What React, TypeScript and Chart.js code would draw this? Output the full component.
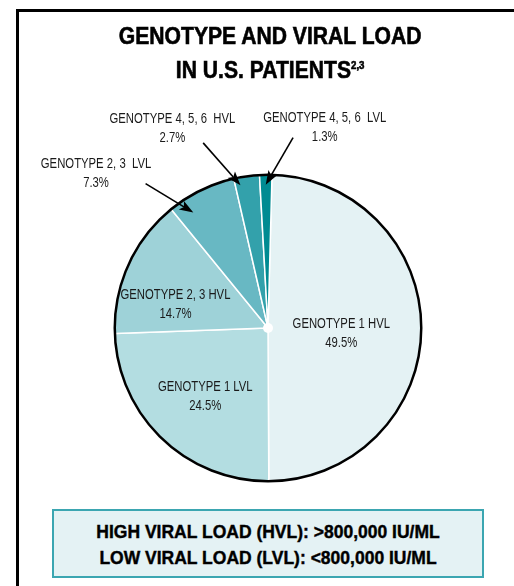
import React, { useEffect, useRef } from "react";
import { Chart, registerables } from "chart.js";

Chart.register(...registerables);

// ---- data ----
const categories = [
  "GENOTYPE 1 HVL",
  "GENOTYPE 1 LVL",
  "GENOTYPE 2, 3 HVL",
  "GENOTYPE 2, 3  LVL",
  "GENOTYPE 4, 5, 6  HVL",
  "GENOTYPE 4, 5, 6  LVL",
];
const values = [49.5, 24.5, 14.7, 7.3, 2.7, 1.3];
const colors = ["#e4f2f4", "#b3dde1", "#9ed2d8", "#68b8c3", "#33a1ab", "#008b92"];
const titleLines = ["GENOTYPE AND VIRAL LOAD", "IN U.S. PATIENTS"];
const titleSup = "2,3";
const legendLines = [
  "HIGH VIRAL LOAD (HVL): >800,000 IU/ML",
  "LOW VIRAL LOAD (LVL): <800,000 IU/ML",
];

// ---- label layout (polar: degrees clockwise from 12 o'clock, radius as fraction of pie radius) ----
const labelPlacement = [
  { a: 94.6, r: 0.48 },
  { a: 222.4, r: 0.607 },
  { a: 284.2, r: 0.623 },
  { a: 312.0, r: 1.51 },
  { a: 334.4, r: 1.444 },
  { a: 15.8, r: 1.36 },
];
const arrowPlacement: any[] = [
  null,
  null,
  null,
  { tailA: 319.7, tailR: 1.235, tipA: 327.1, tipR: 0.897 },
  { tailA: 340.7, tailR: 1.28, tipA: 346.9, tipR: 0.949 },
  { tailA: 7.5, tailR: 1.253, tipA: 359.1, tipR: 0.935 },
];

const pieDecor = {
  id: "pieDecor",
  afterDatasetsDraw(chart: any) {
    const ctx = chart.ctx as CanvasRenderingContext2D;
    const arcs = chart.getDatasetMeta(0).data as any[];
    if (!arcs.length) return;
    const cx = arcs[0].x;
    const cy = arcs[0].y;
    const R = arcs[0].outerRadius;
    const pt = (deg: number, rf: number) => {
      const a = ((deg - 90) * Math.PI) / 180;
      return [cx + rf * R * Math.cos(a), cy + rf * R * Math.sin(a)];
    };
    ctx.save();
    // outline
    ctx.beginPath();
    ctx.arc(cx, cy, R, 0, Math.PI * 2);
    ctx.lineWidth = 2.5;
    ctx.strokeStyle = "#000";
    ctx.stroke();
    // center dot
    ctx.beginPath();
    ctx.arc(cx, cy, 5, 0, Math.PI * 2);
    ctx.fillStyle = "#fff";
    ctx.fill();

    // arrows
    arcs.forEach((arc, i) => {
      const ap = arrowPlacement[i];
      if (!ap) return;
      const { startAngle, endAngle } = arc;
      let t = ((ap.tipA - 90) * Math.PI) / 180;
      const mid = (startAngle + endAngle) / 2;
      while (t < mid - Math.PI) t += 2 * Math.PI;
      while (t > mid + Math.PI) t -= 2 * Math.PI;
      const m = Math.min((2 * Math.PI) / 180, (endAngle - startAngle) / 3);
      t = Math.max(startAngle + m, Math.min(endAngle - m, t));
      const tip = [cx + ap.tipR * R * Math.cos(t), cy + ap.tipR * R * Math.sin(t)];
      const tail = pt(ap.tailA, ap.tailR);
      const dx = tip[0] - tail[0];
      const dy = tip[1] - tail[1];
      const len = Math.hypot(dx, dy);
      const ux = dx / len;
      const uy = dy / len;
      const hl = 14;
      const hw = 5;
      const bx = tip[0] - ux * hl;
      const by = tip[1] - uy * hl;
      ctx.beginPath();
      ctx.moveTo(tail[0], tail[1]);
      ctx.lineTo(bx + ux * 3, by + uy * 3);
      ctx.lineWidth = 1.6;
      ctx.strokeStyle = "#000";
      ctx.stroke();
      ctx.beginPath();
      ctx.moveTo(tip[0], tip[1]);
      ctx.lineTo(bx - uy * hw, by + ux * hw);
      ctx.lineTo(bx + ux * 3, by + uy * 3);
      ctx.lineTo(bx + uy * hw, by - ux * hw);
      ctx.closePath();
      ctx.fillStyle = "#000";
      ctx.fill();
    });

    // labels (condensed look via horizontal scale)
    ctx.font = '14.5px "Liberation Sans", Arial, sans-serif';
    ctx.fillStyle = "#1a1a1a";
    ctx.textAlign = "center";
    ctx.textBaseline = "middle";
    arcs.forEach((_arc, i) => {
      const lp = labelPlacement[i];
      const [x, y] = pt(lp.a, lp.r);
      ctx.save();
      ctx.translate(x, y);
      ctx.scale(0.78, 1);
      ctx.fillText(categories[i], 0, -9.5);
      ctx.fillText(values[i].toFixed(1) + "%", 0, 9.5);
      ctx.restore();
    });
    ctx.restore();
  },
};

export default function App() {
  const canvasRef = useRef<HTMLCanvasElement | null>(null);

  useEffect(() => {
    const canvas = canvasRef.current;
    if (!canvas) return;
    const chart = new Chart(canvas, {
      type: "pie",
      data: {
        labels: categories,
        datasets: [
          {
            data: values,
            backgroundColor: colors,
            borderColor: "#ffffff",
            borderWidth: 1.5,
          },
        ],
      },
      options: {
        responsive: false,
        animation: false,
        rotation: 1.5,
        layout: { padding: { left: 114, right: 92, top: 174, bottom: 104 } },
        plugins: {
          legend: { display: false },
          tooltip: { enabled: false },
          title: { display: false },
        },
      },
      plugins: [pieDecor],
    });
    return () => chart.destroy();
  }, []);

  const boldFont = '"Liberation Sans", Arial, sans-serif';

  return (
    <div
      style={{
        position: "absolute",
        left: 0,
        top: 0,
        width: 514,
        height: 586,
        overflow: "hidden",
        background: "#ffffff",
      }}
    >
      <div
        style={{
          position: "absolute",
          left: 16,
          top: 9,
          width: 600,
          height: 700,
          borderTop: "3px solid #000",
          borderLeft: "3px solid #000",
        }}
      />
      <canvas
        ref={canvasRef}
        width={514}
        height={586}
        style={{ position: "absolute", left: 0, top: 0, display: "block" }}
      />
      <div
        style={{
          position: "absolute",
          left: 18,
          top: 19,
          width: 500,
          textAlign: "center",
          fontFamily: boldFont,
          fontWeight: 700,
          fontSize: 24,
          lineHeight: "34px",
          color: "#000",
          WebkitTextStroke: "0.6px #000",
          transform: "scaleX(0.88)",
          transformOrigin: "268px 0",
        }}
      >
        <div>{titleLines[0]}</div>
        <div>
          {titleLines[1]}
          <span style={{ fontSize: 11, position: "relative", top: -9 }}>{titleSup}</span>
        </div>
      </div>
      <div
        style={{
          position: "absolute",
          left: 52,
          top: 509,
          width: 432,
          height: 69,
          boxSizing: "border-box",
          border: "2px solid #3ba6b1",
          background: "#e4f2f4",
          paddingTop: 8,
          textAlign: "center",
          fontFamily: boldFont,
          fontWeight: 700,
          fontSize: 17.5,
          lineHeight: "26px",
          color: "#000",
          WebkitTextStroke: "0.4px #000",
        }}
      >
        <div>{legendLines[0]}</div>
        <div>{legendLines[1]}</div>
      </div>
    </div>
  );
}
